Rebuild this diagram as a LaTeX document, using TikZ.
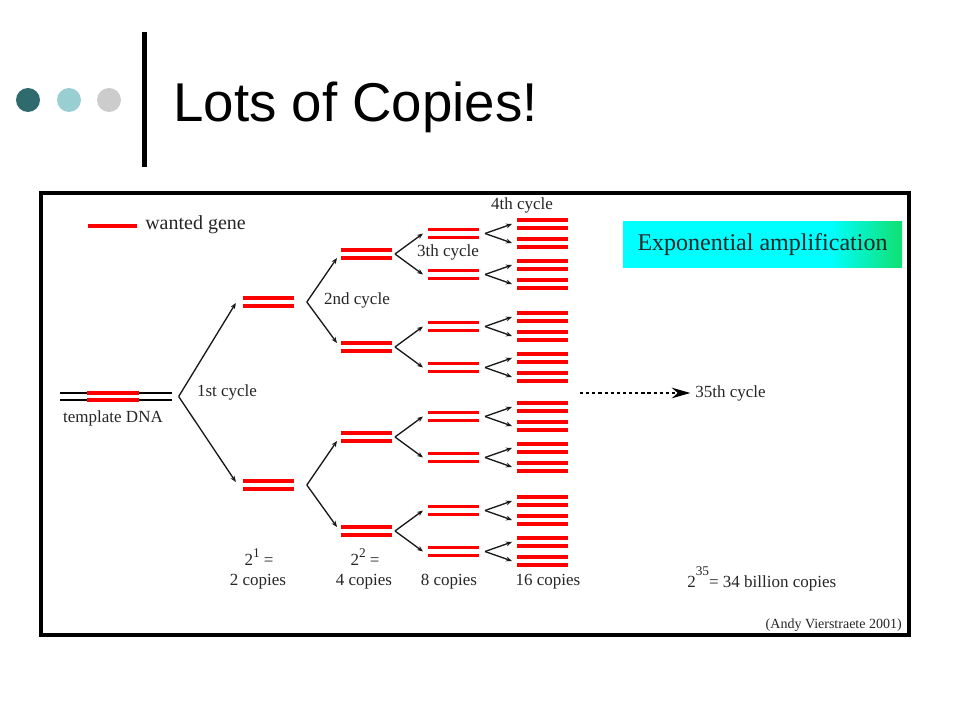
\documentclass[tikz,border=0pt]{standalone}
\usepackage{fontspec}
\setmainfont{Liberation Serif}
\newfontfamily\titlefont{Liberation Sans}
\usetikzlibrary{arrows.meta}
\definecolor{bulletA}{HTML}{2F6A6E}
\definecolor{bulletB}{HTML}{99CED3}
\definecolor{bulletC}{HTML}{CCCCCC}
\definecolor{expgreen}{HTML}{10E070}
\pgfdeclarehorizontalshading{expamp}{100bp}{color(0bp)=(cyan); color(25bp)=(cyan); color(62bp)=(cyan); color(75bp)=(expgreen); color(100bp)=(expgreen)}
\newcommand\dnapair[3]{%
  \node[pairbox] (#1) at (#2,#3) {};
  \draw[gene] ([yshift=3pt]#1.west) -- ([yshift=3pt]#1.east);
  \draw[gene] ([yshift=-3pt]#1.west) -- ([yshift=-3pt]#1.east);
}
\newcommand\supnum[2]{\raisebox{#2}{\fontsize{10}{10}\selectfont #1}}
\begin{document}
\begin{tikzpicture}[x=0.75pt,y=-0.75pt,
  gene/.style={draw=red, line width=2.8pt},
  strand/.style={draw=black, line width=1.1pt},
  arr/.style={draw=black!90, line width=1pt, -{Stealth[length=4.5pt,width=3.6pt]}},
  pairbox/.style={minimum width=38.25pt, minimum height=6pt, inner sep=0pt, outer sep=0pt},
  lbl/.style={font=\fontsize{12.75}{14}\selectfont, text=black!85, inner sep=0pt},
  bullet/.style={circle, minimum size=18pt, inner sep=0pt}]
\useasboundingbox (0,0) rectangle (960,720);
\fill[white] (0,0) rectangle (960,720);

% title area
\node[bullet, fill=bulletA] (b1) at (28,100) {};
\node[bullet, fill=bulletB] (b2) at (69,100) {};
\node[bullet, fill=bulletC] (b3) at (109,100) {};
\draw[line width=3.4pt] (144.5,32) -- (144.5,167);
\node[anchor=base west, inner sep=0pt, font=\titlefont\fontsize{41}{41}\selectfont] (title) at (173,121.5) {Lots of Copies!};

% frame
\draw[line width=3pt] (40.5,193) rectangle (909,635);

% legend
\coordinate (lg1) at (88,226);
\coordinate (lg2) at (137,226);
\draw[draw=red, line width=3pt] (lg1) -- (lg2);
\node[anchor=west, inner sep=0pt, text=black!85, font=\fontsize{15}{17}\selectfont] (legend) at (145,225) {wanted gene};

% exponential box
\node[shading=expamp, minimum width=209.25pt, minimum height=34.5pt, inner sep=0pt, font=\fontsize{18}{20}\selectfont, text=black!85] (expbox) at (762.5,245) {Exponential amplification};

% template DNA
\node[minimum width=84pt, minimum height=5.25pt, inner sep=0pt, outer sep=0pt] (t0) at (116,396.5) {};
\draw[strand] ([yshift=2.6pt]t0.west) -- ([yshift=2.6pt]t0.east);
\draw[strand] ([yshift=-2.6pt]t0.west) -- ([yshift=-2.6pt]t0.east);
\node[minimum width=39pt, minimum height=5.25pt, inner sep=0pt, outer sep=0pt] (t0g) at (113,396.5) {};
\draw[gene] ([yshift=2.6pt]t0g.west) -- ([yshift=2.6pt]t0g.east);
\draw[gene] ([yshift=-2.6pt]t0g.west) -- ([yshift=-2.6pt]t0g.east);
\node[lbl] (tlabel) at (113,418) {template DNA};

% generation 1
\dnapair{g1-1}{268}{302}
\dnapair{g1-2}{268}{485}
\coordinate (v0) at ([xshift=5pt]t0.east);
\draw[arr] (v0) -- ([xshift=-5pt,yshift=-0.75pt]g1-1.west);
\draw[arr] (v0) -- ([xshift=-5pt,yshift=2.25pt]g1-2.west);
\node[lbl] (c1) at (227,392) {1st cycle};

% generation 2
\dnapair{g2-1}{366.5}{254}
\dnapair{g2-2}{366.5}{347}
\dnapair{g2-3}{366.5}{437}
\dnapair{g2-4}{366.5}{531}
\coordinate (v1-1) at ([xshift=10pt]g1-1.east);
\coordinate (v1-2) at ([xshift=10pt]g1-2.east);
\draw[arr] (v1-1) -- ([xshift=-3pt,yshift=-3pt]g2-1.west);
\draw[arr] (v1-1) -- ([xshift=-3pt,yshift=3pt]g2-2.west);
\draw[arr] (v1-2) -- ([xshift=-3pt,yshift=-3pt]g2-3.west);
\draw[arr] (v1-2) -- ([xshift=-3pt,yshift=3pt]g2-4.west);
\node[lbl] (c2) at (357,300) {2nd cycle};

% generations 3 and 4
\foreach \i/\y in {1/254,2/347,3/437,4/531}{
  \pgfmathsetmacro\ya{\y-20.5}
  \pgfmathsetmacro\yb{\y+20.5}
  \dnapair{g3-\i-1}{453.5}{\ya}
  \dnapair{g3-\i-2}{453.5}{\yb}
  \coordinate (v2-\i) at ([xshift=2.25pt]g2-\i.east);
  \draw[arr] (v2-\i) -- ([xshift=-3.75pt]g3-\i-1.west);
  \draw[arr] (v2-\i) -- ([xshift=-3.75pt]g3-\i-2.west);
  \foreach \j/\yy in {1/\ya,2/\yb}{
    \pgfmathsetmacro\yc{\yy-9.5}
    \pgfmathsetmacro\yd{\yy+9.5}
    \dnapair{g4-\i-\j-1}{542.5}{\yc}
    \dnapair{g4-\i-\j-2}{542.5}{\yd}
    \coordinate (v3-\i-\j) at ([xshift=4.5pt]g3-\i-\j.east);
    \draw[arr] (v3-\i-\j) -- ([xshift=-3.75pt]g4-\i-\j-1.west);
    \draw[arr] (v3-\i-\j) -- ([xshift=-3.75pt]g4-\i-\j-2.west);
  }
}
\node[lbl] (c3) at (448,252) {3th cycle};
\node[lbl] (c4) at (522,205) {4th cycle};

% counts
\node[lbl, anchor=base] (p1) at (259,565) {2\supnum{1}{6pt} =};
\node[lbl] (n1) at (258,582) {2 copies};
\node[lbl, anchor=base] (p2) at (365,565) {2\supnum{2}{6pt} =};
\node[lbl] (n2) at (364,582) {4 copies};
\node[lbl] (n3) at (449,582) {8 copies};
\node[lbl] (n4) at (548,582) {16 copies};

% 35th cycle
\coordinate (ds) at (580,393);
\node[lbl, anchor=west] (c35) at (695,393) {35th cycle};
\draw[line width=0.9pt, dash pattern=on 2.4pt off 2.2pt, -{Stealth[length=14pt,width=8pt]}] (ds) -- ([xshift=-3.5pt]c35.west);
\node[lbl, anchor=base west] (p35) at (687,587) {2\supnum{35}{9pt}= 34 billion copies};

\node[anchor=east, inner sep=0pt, text=black!85, font=\fontsize{10.5}{12}\selectfont] (credit) at (902,625) {(Andy Vierstraete 2001)};
\end{tikzpicture}
\end{document}
